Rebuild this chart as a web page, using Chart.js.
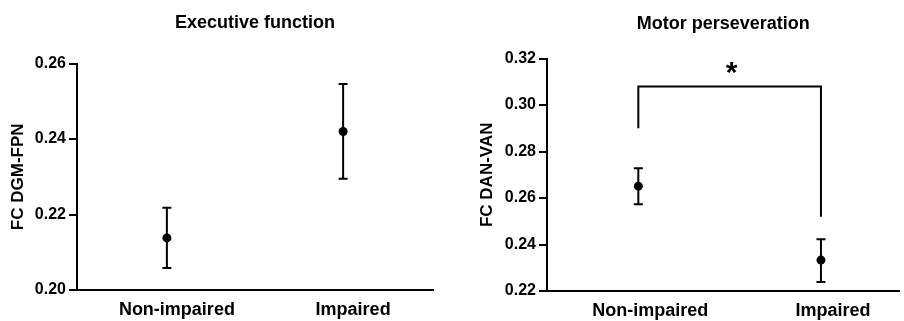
<!DOCTYPE html>
<html>
<head>
<meta charset="utf-8">
<script src="https://cdn.jsdelivr.net/npm/chart.js@4"></script>
<style>
  html, body { margin: 0; padding: 0; background: #fff; }
  #wrap { position: relative; width: 904px; height: 321px; }
  .panel { position: absolute; top: 0; height: 321px; }
  #p1 { left: 0; width: 450px; }
  #p2 { left: 450px; width: 454px; }
</style>
</head>
<body>
<div id="wrap">
  <div class="panel" id="p1"><canvas id="execChart"></canvas></div>
  <div class="panel" id="p2"><canvas id="motorChart"></canvas></div>
</div>
<script>
// groups on the x axis
const groups = ['Non-impaired', 'Impaired'];

// Executive function: mean and error bar ends
const execMean = [0.2138, 0.2420];
const execLow = [0.2058, 0.2295];
const execHigh = [0.2218, 0.2546];
const execTicks = [0.20, 0.22, 0.24, 0.26];

// Motor perseveration: mean and error bar ends
const motorMean = [0.2651, 0.2333];
const motorLow = [0.2573, 0.2239];
const motorHigh = [0.2728, 0.2423];
const motorTicks = [0.22, 0.24, 0.26, 0.28, 0.30, 0.32];

// significance bracket (top line, left leg end, right leg end)
const bracketTop = 0.308;
const bracketLegs = [0.290, 0.252];
const bracketMark = '*';

const FONT = '"Liberation Sans", Arial, Helvetica, sans-serif';

// draws error bars under the points, and an optional bracket
const errorBars = {
    id: 'errorBars',
    beforeDatasetsDraw(chart, args, opts) {
        const ctx = chart.ctx;
        const x = chart.scales.x, y = chart.scales.y;
        ctx.save();
        ctx.strokeStyle = '#000';
        ctx.lineWidth = 2;
        opts.low.forEach((lo, i) => {
            const px = x.getPixelForValue(i);
            const yl = y.getPixelForValue(lo);
            const yh = y.getPixelForValue(opts.high[i]);
            ctx.beginPath();
            ctx.moveTo(px, yl); ctx.lineTo(px, yh);
            ctx.moveTo(px - 4.5, yl); ctx.lineTo(px + 4.5, yl);
            ctx.moveTo(px - 4.5, yh); ctx.lineTo(px + 4.5, yh);
            ctx.stroke();
        });
        if (opts.bracket) {
            const x0 = x.getPixelForValue(0), x1 = x.getPixelForValue(1);
            const yt = y.getPixelForValue(opts.bracket.top);
            ctx.beginPath();
            ctx.moveTo(x0, y.getPixelForValue(opts.bracket.legs[0]));
            ctx.lineTo(x0, yt);
            ctx.lineTo(x1, yt);
            ctx.lineTo(x1, y.getPixelForValue(opts.bracket.legs[1]));
            ctx.stroke();
            ctx.fillStyle = '#000';
            ctx.font = 'bold 30px ' + FONT;
            ctx.textAlign = 'center';
            ctx.textBaseline = 'middle';
            ctx.fillText(opts.bracket.mark, (x0 + x1) / 2 + 2, yt - 13);
        }
        ctx.restore();
    }
};

function makeChart(id, cfg) {
    const tickVals = cfg.ticks;
    return new Chart(document.getElementById(id), {
        type: 'scatter',
        data: {
            datasets: [{
                data: cfg.mean.map((v, i) => ({ x: i, y: v })),
                showLine: false,
                pointRadius: 4.5,
                pointHoverRadius: 4.5,
                pointBackgroundColor: '#000',
                pointBorderColor: '#000',
                pointBorderWidth: 0
            }]
        },
        options: {
            responsive: true,
            maintainAspectRatio: false,
            animation: false,
            events: [],
            layout: { padding: { left: 0, right: cfg.padRight, top: 0, bottom: 0 } },
            plugins: {
                legend: { display: false },
                tooltip: { enabled: false },
                title: {
                    display: true,
                    fullSize: false,
                    text: cfg.title,
                    color: '#000',
                    font: { family: FONT, size: 18, weight: 'bold' },
                    padding: { top: cfg.titleTop, bottom: cfg.titleBottom }
                },
                errorBars: { low: cfg.low, high: cfg.high, bracket: cfg.bracket }
            },
            scales: {
                x: {
                    type: 'linear',
                    min: cfg.xRange[0],
                    max: cfg.xRange[1],
                    afterBuildTicks(s) { s.ticks = groups.map((g, i) => ({ value: i })); },
                    grid: { display: false, drawTicks: false },
                    border: { display: true, color: '#000', width: 2 },
                    ticks: {
                        color: '#000',
                        padding: 9,
                        labelOffset: cfg.labelOffset,
                        autoSkip: false,
                        maxRotation: 0,
                        font: { family: FONT, size: 18, weight: 'bold' },
                        callback: v => groups[v]
                    },
                    afterFit(s) { s.height = cfg.xHeight; }
                },
                y: {
                    min: tickVals[0],
                    max: tickVals[tickVals.length - 1],
                    afterBuildTicks(s) { s.ticks = tickVals.map(v => ({ value: v })); },
                    grid: { drawOnChartArea: false, drawTicks: true, tickLength: 8, color: '#000', lineWidth: 2 },
                    border: { display: true, color: '#000', width: 2 },
                    ticks: {
                        color: '#000',
                        padding: 3,
                        font: { family: FONT, size: 16, weight: 'bold' },
                        callback: v => v.toFixed(2)
                    },
                    title: {
                        display: true,
                        text: cfg.yTitle,
                        color: '#000',
                        font: { family: FONT, size: 17, weight: 'bold' },
                        padding: { top: cfg.yTitlePad, bottom: 0 }
                    },
                    afterFit(s) { s.width = cfg.yWidth; }
                }
            }
        },
        plugins: [errorBars]
    });
}

makeChart('execChart', {
    title: 'Executive function',
    yTitle: 'FC DGM-FPN',
    mean: execMean, low: execLow, high: execHigh, ticks: execTicks,
    xRange: [-0.51, 1.51],
    titleTop: 12, titleBottom: 30,
    yWidth: 77, yTitlePad: 8, xHeight: 31, padRight: 17,
    labelOffset: 10
});

makeChart('motorChart', {
    title: 'Motor perseveration',
    yTitle: 'FC DAN-VAN',
    mean: motorMean, low: motorLow, high: motorHigh, ticks: motorTicks,
    xRange: [-0.50, 1.43],
    titleTop: 13, titleBottom: 24,
    yWidth: 97, yTitlePad: 27, xHeight: 30, padRight: 0,
    labelOffset: 12,
    bracket: { top: bracketTop, legs: bracketLegs, mark: bracketMark }
});
</script>
</body>
</html>
